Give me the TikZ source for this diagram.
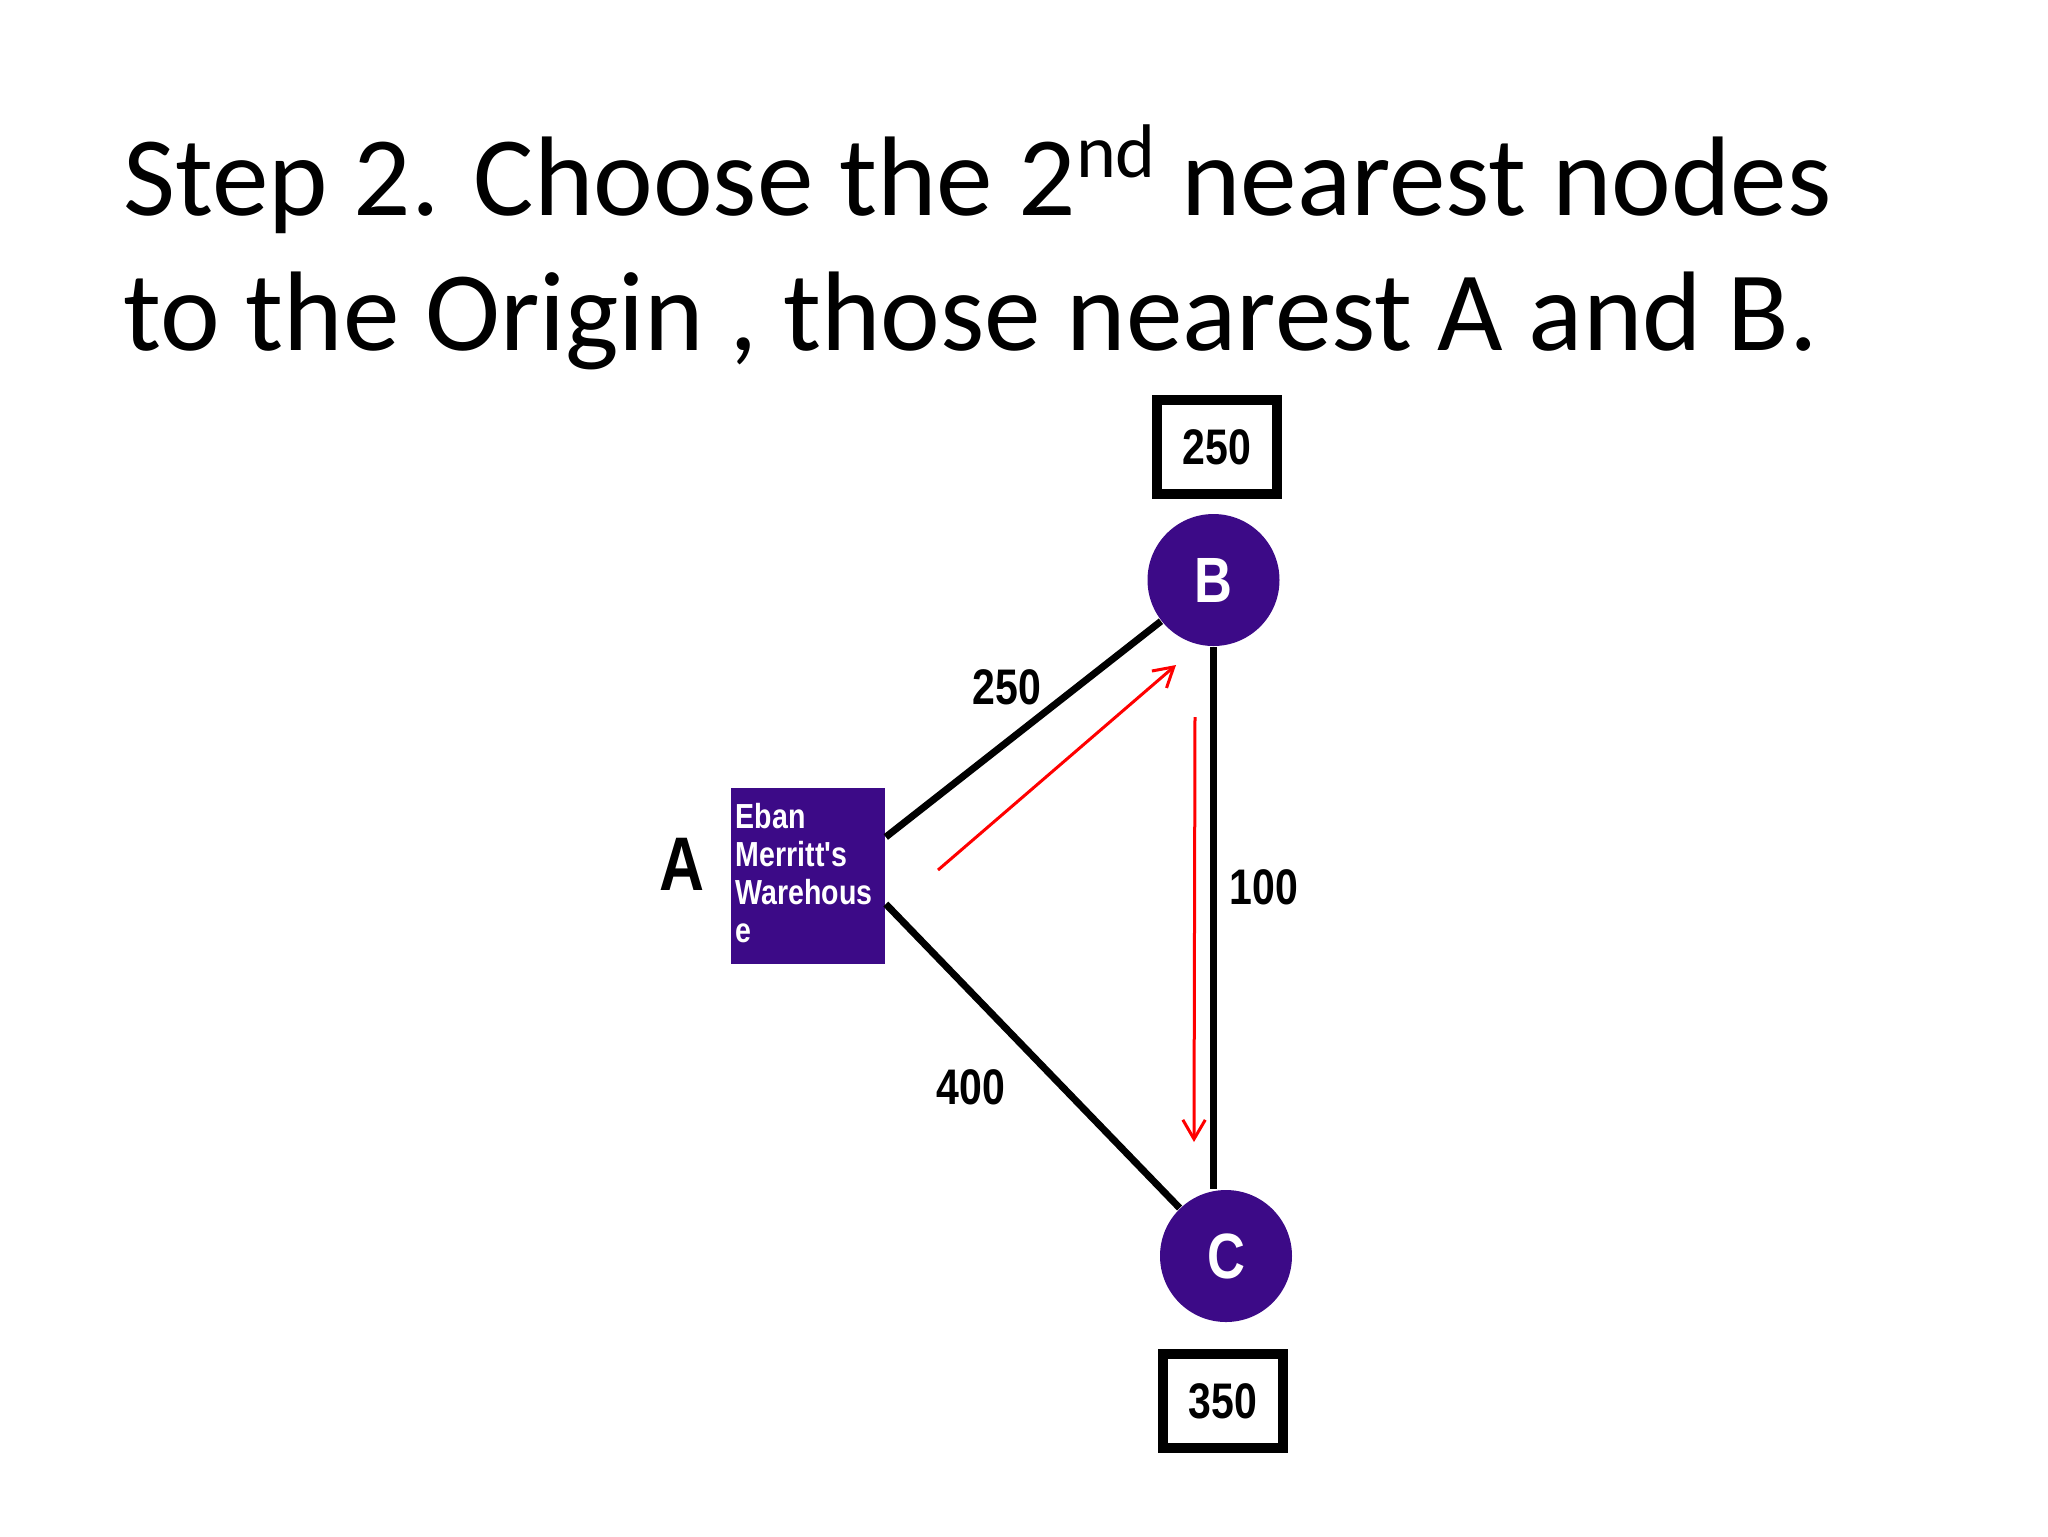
\documentclass[tikz,border=0pt]{standalone}
\usepackage{fontspec}
\setmainfont{Carlito}
\newfontfamily\diagfont[FakeStretch=0.82]{Liberation Sans}
\usetikzlibrary{arrows.meta}
\definecolor{nodepurple}{RGB}{60,10,135}
\tikzset{
  titleline/.style={anchor=base west, inner sep=0pt, font=\fontsize{28.3}{34}\selectfont},
  valuebox/.style={draw=black, line width=2.5pt, minimum width=30pt, minimum height=23.5pt, inner sep=0pt,
    font=\diagfont\bfseries\fontsize{12.5}{12.5}\selectfont},
  citynode/.style={circle, fill=nodepurple, minimum size=33pt, inner sep=0pt, text=white,
    font=\diagfont\bfseries\fontsize{16}{16}\selectfont},
  edgelabel/.style={inner sep=0pt, font=\diagfont\bfseries\fontsize{12.5}{12.5}\selectfont},
  edge/.style={line width=1.75pt, black},
  redarrow/.style={red, line width=0.75pt, -{Straight Barb[length=4.8pt,width=5.6pt]}}
}
\begin{document}
\begin{tikzpicture}[x=0.25pt,y=-0.25pt]
\useasboundingbox (0,0) rectangle (2048,1536);
\node[titleline] (t1) at (123,215) {Step 2. Choose the 2\raisebox{9.5pt}{\fontsize{19}{19}\selectfont nd} nearest nodes};
\node[titleline] (t2) at (123,350) {to the Origin , those nearest A and B.};

\node[valuebox] (box250) at (1217,447) {250};
\node[citynode] (B) at (1213.5,580) {B};
\node[fill=nodepurple, minimum width=38.5pt, minimum height=44pt, inner sep=0pt] (Arect) at (808,876) {};
\node[anchor=north west, inner sep=0pt, align=left, text=white,
  font=\diagfont\bfseries\fontsize{8.7}{9.5}\selectfont] (Atext) at (735,802) {Eban\\Merritt's\\Warehous\\e};
\node[inner sep=0pt, font=\diagfont\bfseries\fontsize{19}{19}\selectfont] (Alabel) at (682,864) {A};
\node[citynode] (C) at (1226,1256) {C};
\node[valuebox] (box350) at (1223,1401) {350};

\draw[edge] ([yshift=9.75pt]Arect.east) -- (B);
\draw[edge] ([yshift=-7pt]Arect.east) -- (C);
\draw[edge] (B.south) -- (B.south |- C.north);

\node[edgelabel] (lab250) at (1007,687) {250};
\node[edgelabel] (lab100) at (1264,887) {100};
\node[edgelabel] (lab400) at (971,1087) {400};

\coordinate (r1s) at (938,870);
\coordinate (r1e) at (1176,665);
\coordinate (r2s) at (1195,717);
\coordinate (r2e) at (1194,1142);
\draw[redarrow] (r1s) -- (r1e);
\draw[redarrow] (r2s) -- (r2e);
\end{tikzpicture}
\end{document}
